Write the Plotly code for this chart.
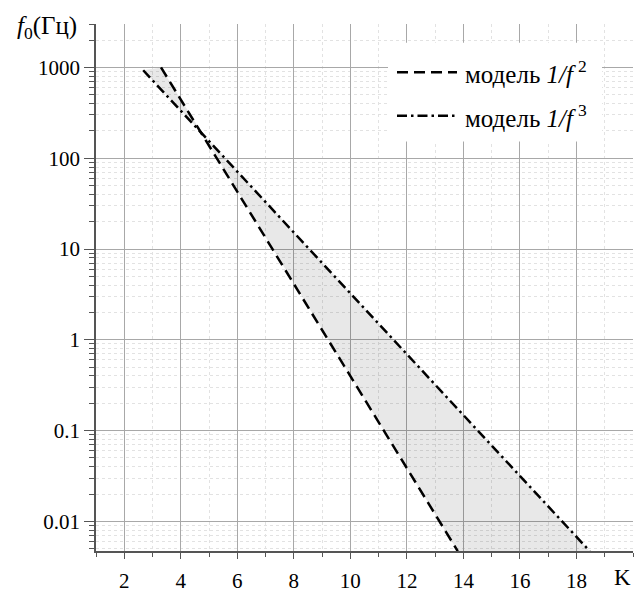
import plotly.graph_objects as go

# ---- data ----
model_f2_x = [3.3, 13.8]          # dashed line, model 1/f^2
model_f2_y = [1000, 0.0047]
model_f3_x = [2.67, 18.47]        # dash-dot line, model 1/f^3
model_f3_y = [930, 0.0047]
band_upper_x = [2.67, 3.3, 4.75]  # shaded band between the models (above crossing)
band_upper_y = [930, 1000, 190]
band_lower_x = [4.75, 18.47, 13.8]  # shaded band (below crossing)
band_lower_y = [190, 0.0047, 0.0047]
x_ticks = [2, 4, 6, 8, 10, 12, 14, 16, 18]
y_ticks = [0.01, 0.1, 1, 10, 100, 1000]
y_tick_labels = ["0.01", "0.1", "1", "10", "100", "1000"]
legend_labels = ["модель <i>1/f</i>\u2009<sup>2</sup>", "модель <i>1/f</i>\u2009<sup>3</sup>"]

FONT = "Liberation Serif, Times New Roman, serif"
fill_col = "rgba(0,0,0,0.09)"
minor_grid = "#e2e2e2"

fig = go.Figure()
for bx, by in [(band_upper_x, band_upper_y), (band_lower_x, band_lower_y)]:
    fig.add_trace(go.Scatter(x=bx + [bx[0]], y=by + [by[0]], mode="lines",
                             fill="toself", fillcolor=fill_col,
                             line=dict(width=0), hoverinfo="skip", showlegend=False))
fig.add_trace(go.Scatter(x=model_f2_x, y=model_f2_y, mode="lines",
                         line=dict(color="black", width=2.5, dash="11px,6px"),
                         showlegend=False))
fig.add_trace(go.Scatter(x=model_f3_x, y=model_f3_y, mode="lines",
                         line=dict(color="black", width=2.5, dash="10px,4px,2.5px,4px"),
                         showlegend=False))

# manual legend (white box over the grid)
L, R, T, B = 96, 633, 24, 558
px = lambda v: (v - L) / (R - L)
py = lambda v: (B - v) / (B - T)
shapes = [dict(type="rect", xref="paper", yref="paper", x0=px(388), x1=px(602),
               y0=py(143), y1=py(43), fillcolor="white", line=dict(width=0), layer="above")]
annotations = []
for i, (lab, dash) in enumerate(zip(legend_labels, ["11px,6px", "10px,4px,2.5px,4px"])):
    yy = 73 + i * 44
    shapes.append(dict(type="line", xref="paper", yref="paper", x0=px(397), x1=px(457),
                       y0=py(yy), y1=py(yy), line=dict(color="black", width=2.5, dash=dash),
                       layer="above"))
    annotations.append(dict(xref="paper", yref="paper", x=px(463), y=py(yy), text=lab,
                            showarrow=False, xanchor="left", yanchor="middle",
                            font=dict(family=FONT, size=25, color="black")))

annotations.append(dict(xref="paper", yref="paper", x=px(15), y=py(28),
                        text="<i>f</i><sub>0</sub>(Гц)", showarrow=False,
                        xanchor="left", yanchor="middle",
                        font=dict(family=FONT, size=25, color="black")))
annotations.append(dict(xref="paper", yref="paper", x=px(622), y=py(585), text="K",
                        showarrow=False, xanchor="center", yanchor="middle",
                        font=dict(family=FONT, size=23, color="black")))

fig.update_layout(
    width=635, height=595,
    margin=dict(l=L, r=635 - R, t=T, b=595 - B),
    paper_bgcolor="white", plot_bgcolor="white",
    showlegend=False,
    shapes=shapes, annotations=annotations,
    font=dict(family=FONT, size=21, color="black"),
)
fig.update_xaxes(range=[1, 20], tickvals=x_ticks, ticks="outside", ticklen=6,
                 tickcolor="#555", tickwidth=1.2,
                 showline=True, linecolor="#555", linewidth=1.5,
                 showgrid=True, gridcolor="#a8a8a8", gridwidth=1, zeroline=False,
                 ticklabelstandoff=4,
                 tickfont=dict(family=FONT, size=21, color="black"),
                 minor=dict(dtick=1, tick0=0, ticks="outside", ticklen=4, tickcolor="#555",
                            showgrid=True, gridcolor=minor_grid, griddash="dot", gridwidth=1))
fig.update_yaxes(type="log", range=[-2.326, 3.478], tickvals=y_ticks, ticktext=y_tick_labels,
                 ticks="outside", ticklen=10, tickcolor="#555", tickwidth=1.2,
                 showline=True, linecolor="#555", linewidth=1.5,
                 showgrid=True, gridcolor="#a8a8a8", gridwidth=1, zeroline=False,
                 tickfont=dict(family=FONT, size=21, color="black"),
                 minor=dict(dtick="D1", ticks="outside", ticklen=5, tickcolor="#555",
                            showgrid=True, gridcolor=minor_grid, griddash="dot", gridwidth=1))

fig.write_html("out.html", config={"displayModeBar": False},
               post_script="document.body.style.margin='0';document.body.style.overflow='hidden';")
